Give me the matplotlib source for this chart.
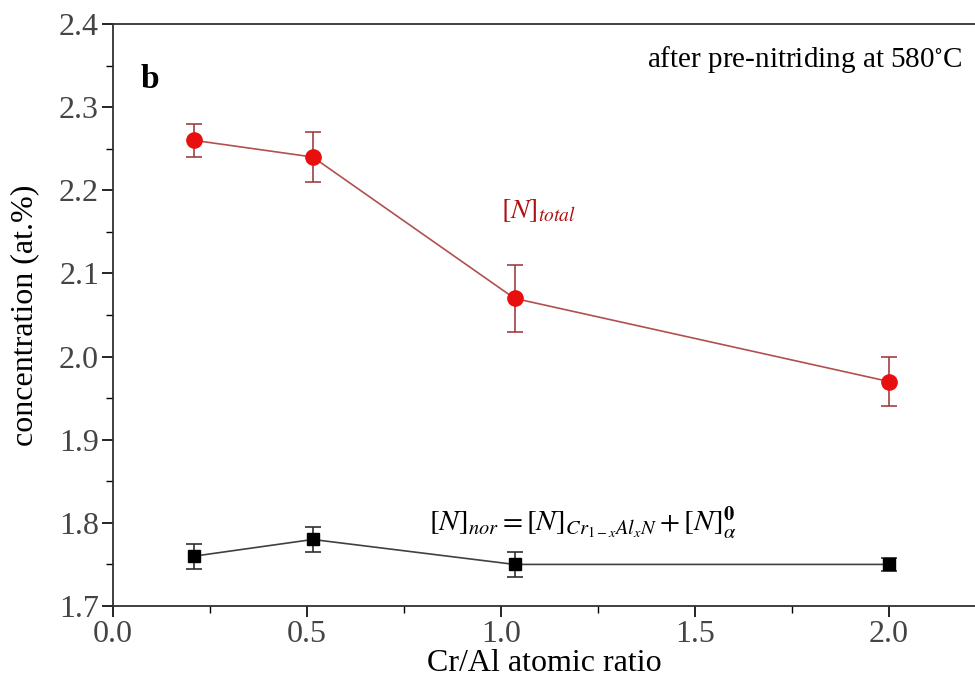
import matplotlib
matplotlib.use("Agg")
import matplotlib.pyplot as plt
from matplotlib.ticker import MultipleLocator

plt.rcParams["font.family"] = ["Liberation Serif", "DejaVu Serif"]
plt.rcParams["mathtext.fontset"] = "stix"

# Cr/Al ratio of the alloys and measured nitrogen contents (at.%)
ratio = [0.21, 0.515, 1.035, 2.0]
n_total = [2.26, 2.24, 2.07, 1.97]
n_total_err = [0.02, 0.03, 0.04, 0.03]
n_nor = [1.76, 1.78, 1.75, 1.75]
n_nor_err = [0.015, 0.015, 0.015, 0.008]

fig = plt.figure(figsize=(9.75, 6.88), dpi=100)
ax = fig.add_axes([0.1159, 0.1192, 0.8841, 0.8459])

ax.errorbar(ratio, n_total, yerr=n_total_err, color="#b05050", lw=1.2,
            marker="o", ms=11, mfc="#e8100e", mec="#e8100e",
            ecolor="#a04040", elinewidth=1.2, capsize=6, capthick=1.2)
ax.errorbar(ratio, n_nor, yerr=n_nor_err, color="#404040", lw=1.2,
            marker="s", ms=9, mfc="black", mec="black",
            ecolor="#303030", elinewidth=1.2, capsize=6, capthick=1.2)

ax.set_xlim(0, 2.222)
ax.set_ylim(1.7, 2.4)
ax.xaxis.set_major_locator(MultipleLocator(0.5))
ax.xaxis.set_minor_locator(MultipleLocator(0.25))
ax.yaxis.set_major_locator(MultipleLocator(0.1))
ax.yaxis.set_minor_locator(MultipleLocator(0.05))
ax.xaxis.set_major_formatter(plt.FormatStrFormatter("%.1f"))
ax.yaxis.set_major_formatter(plt.FormatStrFormatter("%.1f"))
ax.tick_params(which="major", direction="out", length=8, width=1.2,
               labelsize=23, labelcolor="#444444", pad=2)
ax.tick_params(which="minor", direction="out", length=5, width=1.0)
ax.spines["right"].set_visible(False)
for s in ("left", "bottom", "top"):
    ax.spines[s].set_linewidth(1.3)
    ax.spines[s].set_color("#303030")

ax.set_xlabel("Cr/Al atomic ratio", fontsize=23, labelpad=0)
ax.set_ylabel("concentration (at.%)", fontsize=23, labelpad=14)

ax.text(0.095, 2.333, "b", fontsize=24, fontweight="bold", ha="center", va="center")
ax.text(2.19, 2.357, "after pre-nitriding at 580$^{\\circ}$C", fontsize=21,
        ha="right", va="center")
ax.text(1.0, 2.175, r"$[N]_{total}$", fontsize=20, color="#b01010",
        ha="left", va="center")
ax.text(1.21, 1.80, r"$[N]_{nor} = [N]_{Cr_{1-x}Al_xN} + [N]_{\alpha}^{\mathbf{0}}$",
        fontsize=21, ha="center", va="center")

fig.savefig("out.png", dpi=100)
